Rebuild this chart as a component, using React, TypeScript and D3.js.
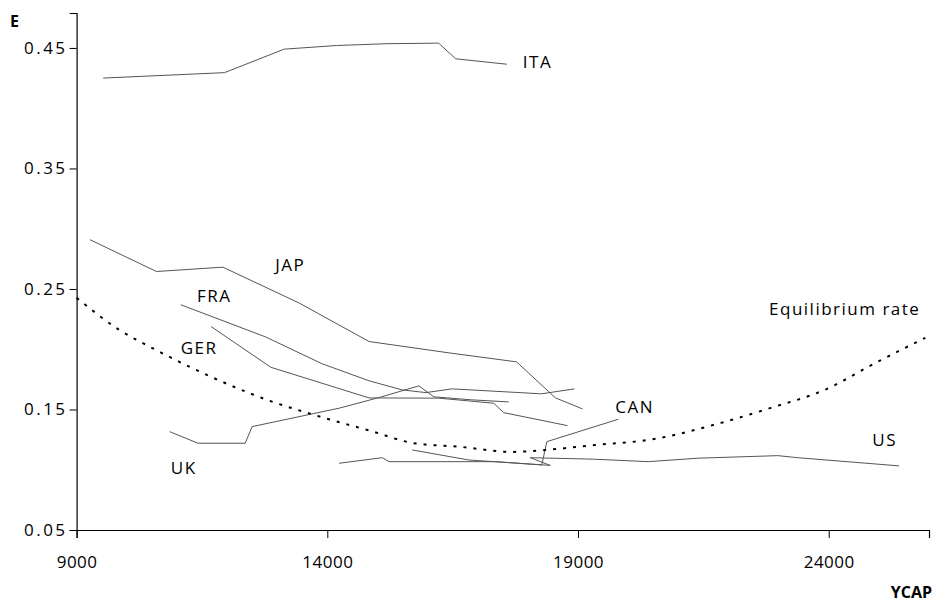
// @ts-nocheck
import React, { useEffect, useRef } from "react";
import * as d3 from "d3";

// axis ticks
const xTicks = [9000, 14000, 19000, 24000];
const yTicks = [0.05, 0.15, 0.25, 0.35, 0.45];

// country paths: [YCAP, E]
const ITA = [
  [9530, 0.425], [11950, 0.4295], [13140, 0.449], [14180, 0.452],
  [15170, 0.4535], [16220, 0.454], [16560, 0.441], [17580, 0.4365],
];
const JAP = [
  [9266, 0.2909], [10592, 0.2645], [11917, 0.2681], [13441, 0.2383],
  [14833, 0.2064], [16424, 0.197], [17775, 0.1895], [18551, 0.1596], [19088, 0.1505],
];
const FRA = [
  [11077, 0.2369], [12765, 0.2103], [13899, 0.1879], [14833, 0.1738],
  [15489, 0.1663], [15966, 0.164], [16483, 0.1671], [18272, 0.163], [18928, 0.1671],
];
const GER = [
  [11682, 0.2188], [12875, 0.185], [14833, 0.1596], [16225, 0.1594],
  [17318, 0.1552], [17517, 0.1474], [18790, 0.1366],
];
const UK = [
  [10858, 0.1316], [11420, 0.122], [12362, 0.122], [12501, 0.1358],
  [14237, 0.1511], [15032, 0.1599], [15827, 0.1696], [16125, 0.1605],
  [16881, 0.158], [17617, 0.1563],
];
const CAN = [
  [14235, 0.1054], [15097, 0.11], [15230, 0.1067], [17352, 0.1067],
  [18278, 0.104], [18378, 0.1233], [19803, 0.1419],
];
const US = [
  [15694, 0.1164], [16821, 0.1081], [18445, 0.1036], [18048, 0.11],
  [19285, 0.1088], [20400, 0.1067], [21394, 0.1096], [22985, 0.1117],
  [23382, 0.11], [25404, 0.1032],
];
const EQUIL = [
  [9000, 0.2427], [9849, 0.2161], [10579, 0.1995], [11970, 0.1718],
  [12898, 0.1565], [13626, 0.1469], [14932, 0.1314], [15688, 0.1223],
  [16682, 0.1189], [17676, 0.1148], [18352, 0.1164], [19346, 0.1206],
  [20400, 0.1247], [21851, 0.1389], [22845, 0.1513], [23919, 0.1663],
  [24972, 0.1895], [25927, 0.2095],
];

const countries = [ITA, JAP, FRA, GER, UK, CAN, US];

// labels placed in data units
const labelText = ["ITA", "JAP", "FRA", "GER", "UK", "CAN", "US", "Equilibrium rate"];
const labelX = [17900, 12960, 11400, 11075, 10880, 19744, 24870, 22810];
const labelY = [0.4335, 0.2648, 0.2393, 0.1963, 0.0968, 0.1474, 0.1193, 0.2287];

const App = () => {
  const svgRef = useRef();

  useEffect(() => {
    const W = 934;
    const H = 603;
    const margin = { top: 13, right: 5, bottom: 73, left: 76.6 };
    const width = W - margin.left - margin.right;
    const height = H - margin.top - margin.bottom;

    d3.select(svgRef.current).selectAll("*").remove();

    const svg = d3
      .select(svgRef.current)
      .attr("width", W)
      .attr("height", H)
      .append("g")
      .attr("transform", `translate(${margin.left},${margin.top})`);

    const x = d3.scaleLinear().domain([9000, 26000]).range([0, width]);
    const y = d3.scaleLinear().domain([0.05, 0.479]).range([height, 0]);

    const font = "'Open Sans', sans-serif";

    // x axis
    const xAxis = svg
      .append("g")
      .attr("transform", `translate(0,${height})`)
      .call(d3.axisBottom(x).tickValues(xTicks).tickSize(8).tickPadding(18).tickFormat(d3.format("d")));
    xAxis.select(".domain").attr("stroke", "#000").attr("stroke-width", 1.2);
    xAxis.selectAll(".tick line").attr("stroke", "#000");
    xAxis
      .selectAll("text")
      .style("font-family", font)
      .style("font-size", "17px")
      .style("letter-spacing", "0.5px")
      .attr("fill", "#000");

    // y axis
    const yAxis = svg
      .append("g")
      .call(d3.axisLeft(y).tickValues(yTicks).tickSize(7).tickPadding(2).tickFormat(d3.format(".2f")));
    yAxis.select(".domain").attr("stroke", "#000").attr("stroke-width", 1.2);
    yAxis.selectAll(".tick line").attr("stroke", "#000");
    yAxis
      .selectAll("text")
      .style("font-family", font)
      .style("font-size", "17px")
      .style("letter-spacing", "2.5px")
      .attr("fill", "#000");

    const line = d3
      .line()
      .x((d) => x(d[0]))
      .y((d) => y(d[1]));

    countries.forEach((c) => {
      svg
        .append("path")
        .datum(c)
        .attr("d", line)
        .attr("fill", "none")
        .attr("stroke", "#555")
        .attr("stroke-width", 1);
    });

    svg
      .append("path")
      .datum(EQUIL)
      .attr("d", line.curve(d3.curveMonotoneX))
      .attr("fill", "none")
      .attr("stroke", "#000")
      .attr("stroke-width", 2)
      .attr("stroke-dasharray", "3,7");

    svg
      .selectAll(".lbl")
      .data(labelText)
      .enter()
      .append("text")
      .attr("x", (d, i) => x(labelX[i]))
      .attr("y", (d, i) => y(labelY[i]))
      .style("font-family", font)
      .style("font-size", "17px")
      .style("letter-spacing", "1.5px")
      .attr("fill", "#000")
      .text((d) => d);

    // axis titles
    d3.select(svgRef.current)
      .append("text")
      .attr("x", 10)
      .attr("y", 27)
      .style("font-family", font)
      .style("font-size", "16px")
      .style("font-weight", "bold")
      .text("E");

    d3.select(svgRef.current)
      .append("text")
      .attr("x", 932)
      .attr("y", 598)
      .attr("text-anchor", "end")
      .style("font-family", font)
      .style("font-size", "16px")
      .style("font-weight", "bold")
      .text("YCAP");
  }, []);

  return (
    <svg
      ref={svgRef}
      style={{ position: "absolute", left: 0, top: 0, background: "#fff" }}
    ></svg>
  );
};

export default App;
